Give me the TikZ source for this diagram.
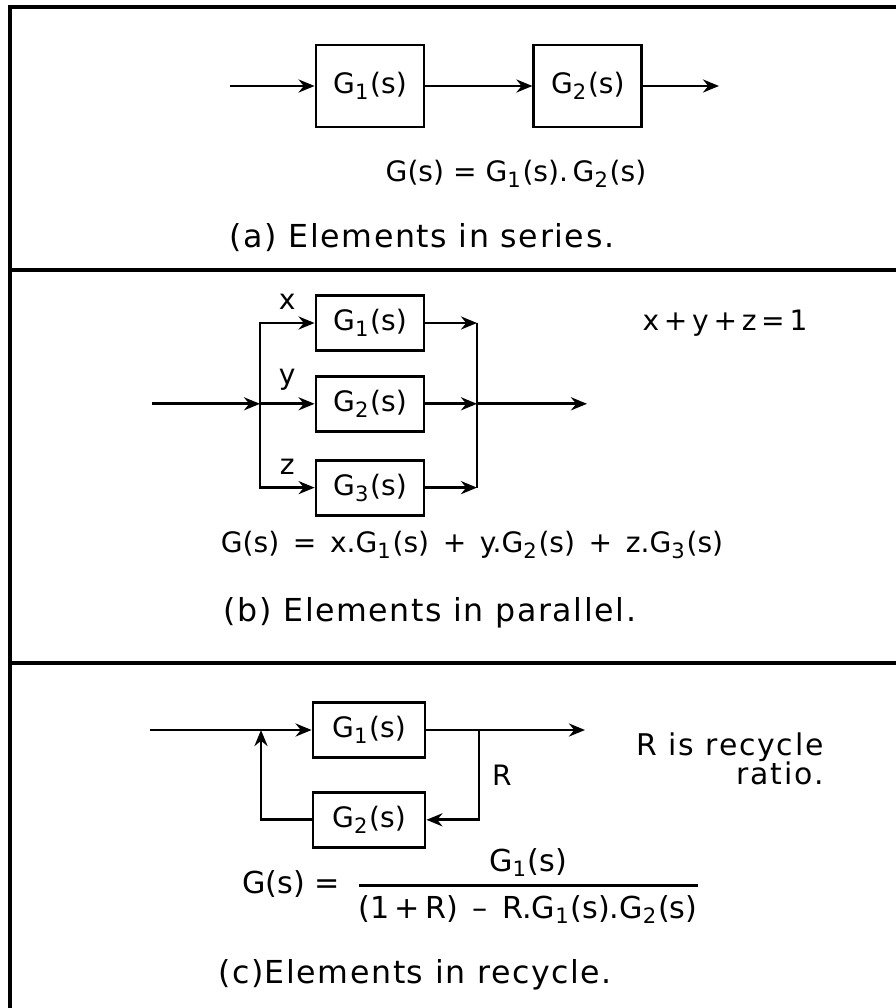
\documentclass[tikz,border=0pt]{standalone}
\usepackage{amsmath}
\usepackage{fontspec}
\setmainfont{DejaVu Sans}
\usepackage{tikz}
\usetikzlibrary{positioning, arrows.meta, calc}
\tikzset{
  block/.style={rectangle, draw=black, thick, minimum width=1.08cm, minimum height=0.55cm, inner sep=0pt, text centered},
  arrow/.style={thick,-{Stealth[length=1.6mm,width=1.3mm]}},
  line/.style={thick},
  frame/.style={line width=1.3pt},
  caption/.style={font=\fontsize{9}{10}\selectfont\addfontfeature{LetterSpace=5}}
}
\newcommand{\gfn}[1]{G\textsubscript{#1}(s)}

\begin{document}
\begin{tikzpicture}[
            every node/.style={font=\fontsize{8}{10}\selectfont}
        ]
            \useasboundingbox (0,0) rectangle (8.96,-10.08);

            % --- Marco ---
            \draw [frame] (0.10,-10.08) -- (0.10,-0.07) -- (8.96,-0.07);
            \draw [frame] (0.10,-2.70) -- (8.96,-2.70);
            \draw [frame] (0.10,-6.63) -- (8.96,-6.63);

            % --- (a) serie ---
            \node (a1) [block, minimum height=0.82cm] at (3.70,-0.86) {\gfn{1}};
            \node (a2) [block, minimum height=0.82cm, right=1.07cm of a1] {\gfn{2}};
            \coordinate (ain) at (2.30,0 |- a1);
            \coordinate (aout) at (7.19,0 |- a2);
            \node (aeq) at (5.16,-1.74) {G(s) = \gfn{1}.\,\gfn{2}};
            \node (acap) [caption] at (4.22,-2.38) {(a) Elements in series.};

            \draw [arrow] (ain) -- (a1);
            \draw [arrow] (a1) -- (a2);
            \draw [arrow] (a2) -- (aout);

            % --- (b) paralelo ---
            \node (b1) [block] at (3.70,-3.23) {\gfn{1}};
            \node (b2) [block, below=0.23cm of b1] {\gfn{2}};
            \node (b3) [block, below=0.26cm of b2] {\gfn{3}};
            \coordinate (bin) at (1.52,0 |- b2);
            \coordinate (bl) at (2.60,0 |- b2);
            \coordinate (br) at (4.77,0 |- b2);
            \coordinate (brt) at (4.77,0 |- b1);
            \coordinate (brb) at (4.77,0 |- b3);
            \coordinate (bout) at (5.87,0 |- b2);
            \node (bsum) at (7.25,-3.23) {x\,+\,y\,+\,z\,=\,1};
            \node (beq) at (4.72,-5.45) {G(s) \,=\, x.\gfn{1} \,+\, y.\gfn{2} \,+\, z.\gfn{3}};
            \node (bcap) [caption] at (4.30,-6.13) {(b) Elements in parallel.};

            \draw [arrow] (bin) -- (bl);
            \draw [arrow] (bl) |- node[above, pos=0.75]{x} (b1.west);
            \draw [arrow] (bl) -- node[above]{y} (b2);
            \draw [arrow] (bl) |- node[above, pos=0.75]{z} (b3.west);
            \draw [arrow] (b1) -- (brt);
            \draw [arrow] (b2) -- (br);
            \draw [arrow] (b3) -- (brb);
            \draw [line] (brt) -- (brb);
            \draw [arrow] (br) -- (bout);

            % --- (c) recirculacion ---
            \node (c1) [block, minimum width=1.12cm] at (3.69,-7.30) {\gfn{1}};
            \node (c2) [block, minimum width=1.12cm, below=0.32cm of c1] {\gfn{2}};
            \coordinate (cin) at (1.50,0 |- c1);
            \coordinate (cj) at (2.61,0 |- c1);
            \coordinate (cs) at (4.79,0 |- c1);
            \coordinate (cout) at (5.85,0 |- c1);
            \node (cnote) [anchor=east, align=right, font=\fontsize{8.5}{8.4}\selectfont\addfontfeature{LetterSpace=6}] at (8.36,-7.59) {R is recycle\\ratio.};
            \node (ceq) [font=\fontsize{8.6}{10}\selectfont] at (4.72,-8.86) {G(s) = \,$\genfrac{}{}{0.8pt}{0}{\text{\gfn{1}}}{\text{(1\,+\,R)\, -- \,R.\gfn{1}.\gfn{2}}}$};
            \node (ccap) [caption] at (4.15,-9.75) {(c)Elements in recycle.};

            \draw [arrow] (cin) -- (c1);
            \draw [arrow] (c1) -- (cout);
            \draw [arrow] (cs) |- node[right, pos=0.25]{R} (c2);
            \draw [arrow] (c2) -| (cj);

        \end{tikzpicture}
\end{document}
